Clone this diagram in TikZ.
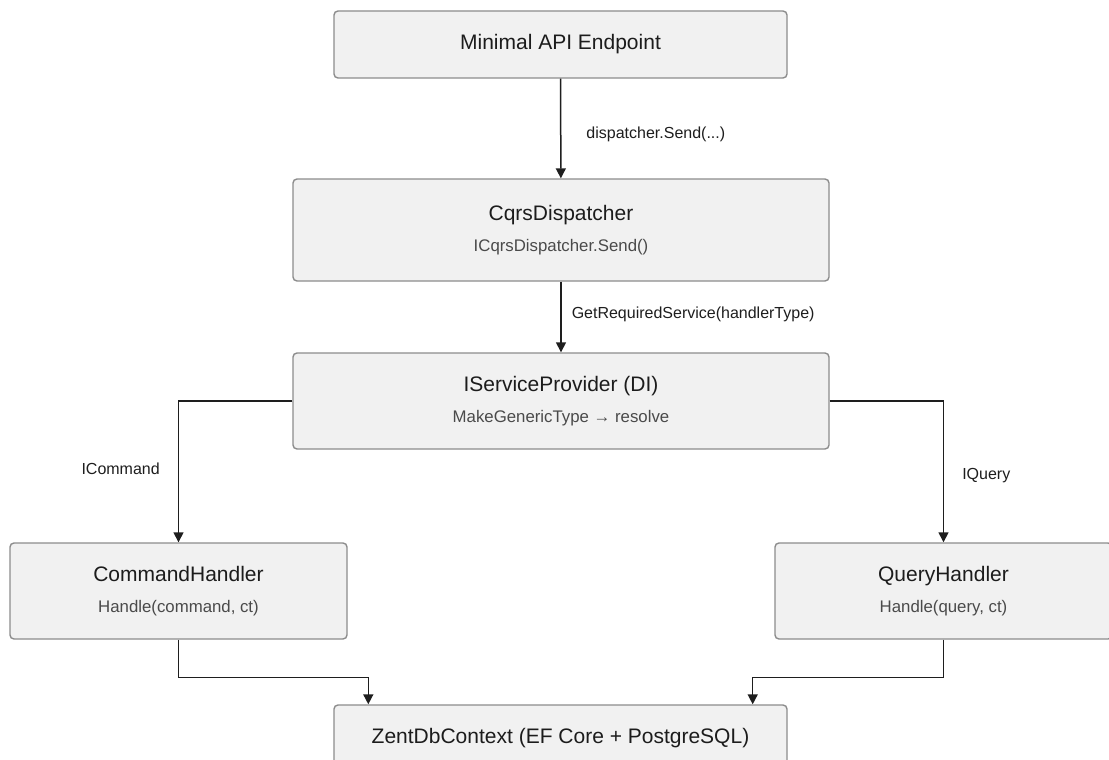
\documentclass[tikz,border=0pt]{standalone}
\usepackage{fontspec}
\setmainfont{Liberation Sans}
\usetikzlibrary{arrows.meta}

\definecolor{boxfill}{HTML}{F1F1F1}
\definecolor{boxline}{HTML}{8C8C8C}
\definecolor{titlecol}{HTML}{1C1C1C}
\definecolor{subcol}{HTML}{4A4A4A}
\definecolor{wirecol}{HTML}{1E1E1E}

% every title line gets the same height and depth
\newcommand\boxtitle{\fontsize{21}{24}\selectfont\color{titlecol}\vphantom{Qy}}
\newcommand\boxsub{\fontsize{16.8}{20}\selectfont\color{subcol}\vphantom{()}}

\begin{document}
\begin{tikzpicture}[x=1pt,y=-1pt,
  stage/.style={draw=boxline, fill=boxfill, line width=1.4pt, rounded corners=4pt,
                inner sep=0pt, align=center},
  flow/.style={draw=wirecol, line width=1.5pt,
               -{Triangle[length=10pt,width=10pt]}},
  edgetext/.style={font=\fontsize{16}{19}\selectfont, text=wirecol, inner sep=0pt}]

\useasboundingbox (0,0) rectangle (1109,760);
\clip (0,0) rectangle (1109,760);
\fill[white] (0,0) rectangle (1109,760);

% pipeline stages
\node[stage, minimum width=453pt, minimum height=67pt] (endpoint) at (560.5,44.5)
  {\boxtitle Minimal API Endpoint};
\node[stage, minimum width=536pt, minimum height=102pt] (dispatcher) at (561,230)
  {\boxtitle CqrsDispatcher\\[14pt]\boxsub ICqrsDispatcher.Send()};
\node[stage, minimum width=536pt, minimum height=96pt] (provider) at (561,401)
  {\boxtitle IServiceProvider (DI)\\[13pt]\boxsub MakeGenericType → resolve};
\node[stage, minimum width=337pt, minimum height=96pt] (cmd) at (178.5,591)
  {\boxtitle CommandHandler\\[14pt]\boxsub Handle(command, ct)};
\node[stage, minimum width=337pt, minimum height=96pt] (qry) at (943.5,591)
  {\boxtitle QueryHandler\\[14pt]\boxsub Handle(query, ct)};
\node[stage, minimum width=453pt, minimum height=66pt] (db) at (560.5,738)
  {\boxtitle ZentDbContext (EF Core + PostgreSQL)};

% request flow
\draw[flow] (endpoint) -- node[edgetext, midway, anchor=west, xshift=25pt, yshift=-6pt]
  {dispatcher.Send(...)} (dispatcher);
\draw[flow] (dispatcher) -- node[edgetext, midway, anchor=west, xshift=10pt, yshift=3pt]
  {GetRequiredService(handlerType)} (provider);
\draw[flow] (provider.west) -| node[edgetext, pos=0.75, anchor=east, xshift=-18pt, yshift=3pt]
  {ICommand} (cmd.north);
\draw[flow] (provider.east) -| node[edgetext, pos=0.75, anchor=west, xshift=18pt, yshift=-4pt]
  {IQuery} (qry.north);
\draw[flow] (cmd.south) -- ++(0,38) -| ([xshift=35pt]db.north west);
\draw[flow] (qry.south) -- ++(0,38) -| ([xshift=-35pt]db.north east);

\end{tikzpicture}
\end{document}
